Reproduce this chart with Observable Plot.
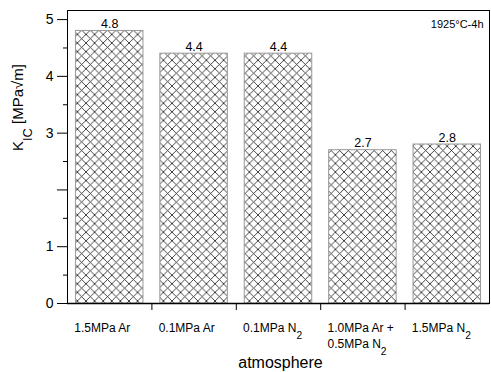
<!DOCTYPE html>
<html><head><meta charset="utf-8">
<script src="https://cdn.jsdelivr.net/npm/d3@7"></script>
<script src="https://cdn.jsdelivr.net/npm/@observablehq/plot@0.6"></script>
<style>
body{margin:0;background:#fff}
#chart svg{font-family:"Liberation Sans",Arial,sans-serif;}
</style>
</head><body><div id="chart"></div>
<script>
const categories = ["1.5MPa Ar", "0.1MPa Ar", "0.1MPa N_2", "1.0MPa Ar +\n0.5MPa N_2", "1.5MPa N_2"];
const values = [4.8, 4.4, 4.4, 2.7, 2.8];
const valueLabels = ["4.8", "4.4", "4.4", "2.7", "2.8"];
const yMajorTicks = [0, 1, 2, 3, 4, 5];
const yTickLabels = [0, 1, 3, 4, 5];
const yMinorTicks = [0.5, 1.5, 2.5, 3.5, 4.5];
const xLabel = "atmosphere";
const yLabel = "K_IC [MPa√m]";
const note = "1925°C-4h";

const data = categories.map((c, i) => ({category: c, index: i, value: values[i], label: valueLabels[i]}));
const boundaries = d3.range(1, categories.length);

const plot = Plot.plot({
  width: 491, height: 372,
  marginLeft: 67, marginRight: 2, marginTop: 10, marginBottom: 69,
  x: {type: "linear", domain: [0, categories.length], axis: null},
  y: {domain: [0, 5.16], axis: null},
  style: {fontFamily: "'Liberation Sans', Arial, sans-serif", fontSize: "12px", color: "#000", background: "#fff"},
  marks: [
    Plot.rectY(data, {x1: d => d.index + 0.1, x2: d => d.index + 0.9, y: "value", fill: "url(#hatch)", stroke: "#999", strokeWidth: 1}),
    Plot.frame({stroke: "#000", strokeWidth: 1}),
    Plot.ruleX([0], {y1: 0, y2: 5.16, insetBottom: -3, stroke: "#000"}),
    Plot.ruleY([0], {stroke: "#000", strokeWidth: 1.5}),
    Plot.axisX({ticks: boundaries, tickSize: 7, tickFormat: () => "", label: null, stroke: "#000"}),
    Plot.axisY({ticks: yMajorTicks, tickSize: 10, tickPadding: 4, tickFormat: d => yTickLabels.includes(d) ? String(d) : "", fontSize: 14, label: null}),
    Plot.axisY({ticks: yMinorTicks, tickSize: 4, tickFormat: () => "", label: null}),
    Plot.text(data, {x: d => d.index + 0.5, y: "value", text: "label", lineAnchor: "bottom", dy: -3, fontSize: 12.5}),
    Plot.text(data, {x: d => d.index + 0.08, text: "category", frameAnchor: "bottom", textAnchor: "start", lineAnchor: "top", dy: 17, fontSize: 12, lineHeight: 1.35}),
    Plot.text([xLabel], {frameAnchor: "bottom", dx: 2, dy: 64, lineAnchor: "bottom", fontSize: 16}),
    Plot.text([yLabel], {frameAnchor: "left", rotate: -90, dx: -55, dy: -6, lineAnchor: "top", fontSize: 15}),
    Plot.text([note], {frameAnchor: "top-right", dx: -6, dy: 10, lineAnchor: "top", textAnchor: "end", fontSize: 11})
  ]
});

document.getElementById("chart").appendChild(plot);

d3.select(plot).insert("defs", ":first-child").html(
  `<pattern id="hatch" patternUnits="userSpaceOnUse" width="8.6" height="8.6">
     <rect width="8.6" height="8.6" fill="#fff"/>
     <path d="M0,0L8.6,8.6M8.6,0L0,8.6" stroke="#222" stroke-width="0.85" fill="none"/>
   </pattern>`);

function subscriptify(root) {
  root.querySelectorAll("text, tspan").forEach(el => {
    [...el.childNodes].forEach(n => {
      if (n.nodeType === 3 && n.nodeValue.includes("_")) {
        const m = n.nodeValue.match(/^(.*?)_(\w+)(.*)$/s);
        if (!m) return;
        const fs = parseFloat(getComputedStyle(el).fontSize) || 12;
        const shift = (fs * 0.6).toFixed(1);
        const ns = "http://www.w3.org/2000/svg";
        const frag = document.createDocumentFragment();
        frag.appendChild(document.createTextNode(m[1]));
        const sub = document.createElementNS(ns, "tspan");
        sub.setAttribute("dy", shift);
        sub.setAttribute("font-size", (fs * 0.85).toFixed(1));
        sub.textContent = m[2];
        frag.appendChild(sub);
        if (m[3]) {
          const rest = document.createElementNS(ns, "tspan");
          rest.setAttribute("dy", -shift);
          rest.textContent = m[3];
          frag.appendChild(rest);
        }
        el.replaceChild(frag, n);
      }
    });
  });
}
subscriptify(plot);
</script>
</body></html>
